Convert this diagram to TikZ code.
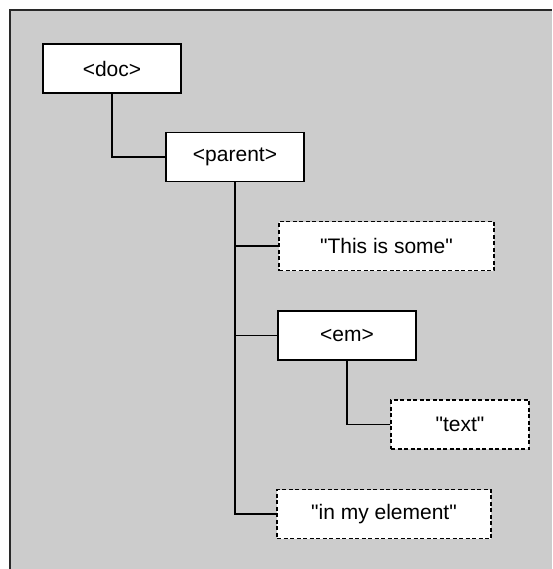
\documentclass[tikz,border=0pt]{standalone}
\usepackage{fontspec}
\setmainfont{Liberation Sans}[Ligatures=TeXOff]
\begin{document}
\begin{tikzpicture}[x=1pt,y=-1pt,
  elem/.style={draw=black,fill=white,line width=1.2pt,minimum width=138pt,minimum height=49pt,inner sep=0pt,font=\fontsize{21}{25}\selectfont},
  txtbox/.style={elem,dash pattern=on 4pt off 2.5pt},
  conn/.style={draw=black,line width=1.8pt}]
\useasboundingbox (0,0) rectangle (552,569);
\fill[fill={rgb,255:red,204;green,204;blue,204}] (10,10) rectangle (552,569);
\draw[line width=1.5pt,color={rgb,255:red,40;green,40;blue,40}] (10,569) -- (10,10) -- (552,10);
\node[elem] (doc) at (112,68.5) {<doc>};
\node[elem] (parent) at (235,157.3) {<parent>};
\node[txtbox,minimum width=215pt] (this) at (386.5,246) {"This is some"};
\node[elem] (em) at (347,335.5) {<em>};
\node[txtbox] (text) at (460,424.5) {"text"};
\node[txtbox,minimum width=214pt] (inmy) at (384,514) {"in my element"};
\draw[conn] (doc.south) |- (parent.west);
\draw[conn] (parent.south) |- (this.west);
\draw[conn] (parent.south) |- (em.west);
\draw[conn] (parent.south) |- (inmy.west);
\draw[conn] (em.south) |- (text.west);
\end{tikzpicture}
\end{document}
